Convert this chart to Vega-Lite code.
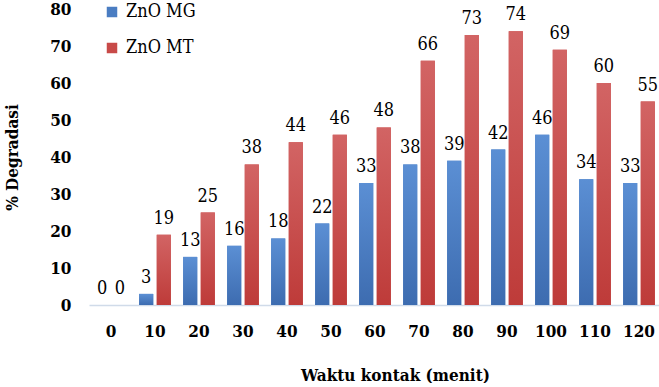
{
  "$schema": "https://vega.github.io/schema/vega-lite/v6.json",
  "width": 572,
  "height": 296,
  "padding": {"left": 3, "top": 0, "right": 0, "bottom": 0},
  "config": {
    "view": {"stroke": null},
    "font": "DejaVu Serif Condensed"
  },
  "data": {
    "values": [
      {"t": "0", "s": "ZnO MG", "v": 0}, {"t": "0", "s": "ZnO MT", "v": 0},
      {"t": "10", "s": "ZnO MG", "v": 3}, {"t": "10", "s": "ZnO MT", "v": 19},
      {"t": "20", "s": "ZnO MG", "v": 13}, {"t": "20", "s": "ZnO MT", "v": 25},
      {"t": "30", "s": "ZnO MG", "v": 16}, {"t": "30", "s": "ZnO MT", "v": 38},
      {"t": "40", "s": "ZnO MG", "v": 18}, {"t": "40", "s": "ZnO MT", "v": 44},
      {"t": "50", "s": "ZnO MG", "v": 22}, {"t": "50", "s": "ZnO MT", "v": 46},
      {"t": "60", "s": "ZnO MG", "v": 33}, {"t": "60", "s": "ZnO MT", "v": 48},
      {"t": "70", "s": "ZnO MG", "v": 38}, {"t": "70", "s": "ZnO MT", "v": 66},
      {"t": "80", "s": "ZnO MG", "v": 39}, {"t": "80", "s": "ZnO MT", "v": 73},
      {"t": "90", "s": "ZnO MG", "v": 42}, {"t": "90", "s": "ZnO MT", "v": 74},
      {"t": "100", "s": "ZnO MG", "v": 46}, {"t": "100", "s": "ZnO MT", "v": 69},
      {"t": "110", "s": "ZnO MG", "v": 34}, {"t": "110", "s": "ZnO MT", "v": 60},
      {"t": "120", "s": "ZnO MG", "v": 33}, {"t": "120", "s": "ZnO MT", "v": 55}
    ]
  },
  "encoding": {
    "x": {
      "field": "t", "type": "ordinal", "sort": null,
      "scale": {"paddingInner": 0.28, "paddingOuter": 0.14},
      "axis": {
        "labelAngle": 0, "ticks": false, "domainColor": "#d0dbe9", "domainWidth": 1.5,
        "labelFontSize": 17, "labelFontWeight": "bold", "labelColor": "#000", "labelPadding": 18,
        "title": "Waktu kontak  (menit)", "titleFontSize": 17, "titleFontWeight": "bold", "titleColor": "#000",
        "titlePadding": 28, "titleX": 306
      }
    },
    "xOffset": {"field": "s", "type": "nominal", "sort": ["ZnO MG", "ZnO MT"], "scale": {"paddingInner": 0.2}},
    "y": {
      "field": "v", "type": "quantitative", "scale": {"domain": [0, 80]},
      "axis": {
        "values": [0, 10, 20, 30, 40, 50, 60, 70, 80], "domain": false, "ticks": false, "grid": false,
        "labelFontSize": 17, "labelFontWeight": "bold", "labelColor": "#000", "labelPadding": 18,
        "title": "% Degradasi", "titleFontSize": 17, "titleFontWeight": "bold", "titleColor": "#000", "titlePadding": 28
      }
    }
  },
  "layer": [
    {
      "mark": "bar",
      "encoding": {
        "color": {
          "field": "s", "type": "nominal",
          "scale": {"domain": ["ZnO MG", "ZnO MT"], "range": ["#4a7dc2", "#c84a48"]},
          "legend": {
            "orient": "none", "legendX": 14, "legendY": -6, "title": null,
            "symbolType": "square", "symbolSize": 110, "symbolStrokeWidth": 0,
            "labelFontSize": 18, "labelColor": "#000",
            "rowPadding": 18, "labelOffset": 5
          }
        }
      }
    },
    {
      "mark": "bar",
      "encoding": {
        "color": {
          "condition": {
            "test": "datum.s === 'ZnO MG'",
            "value": {"gradient": "linear", "x1": 0, "y1": 0, "x2": 0, "y2": 1,
              "stops": [{"offset": 0, "color": "#5b8fd4"}, {"offset": 1, "color": "#3d6cb0"}]}
          },
          "value": {"gradient": "linear", "x1": 0, "y1": 0, "x2": 0, "y2": 1,
            "stops": [{"offset": 0, "color": "#d26464"}, {"offset": 1, "color": "#be3b39"}]}
        }
      }
    },
    {
      "mark": {"type": "text", "baseline": "alphabetic", "dy": -11, "fontSize": 18, "color": "#000"},
      "encoding": {"text": {"field": "v", "type": "quantitative"}}
    }
  ]
}
